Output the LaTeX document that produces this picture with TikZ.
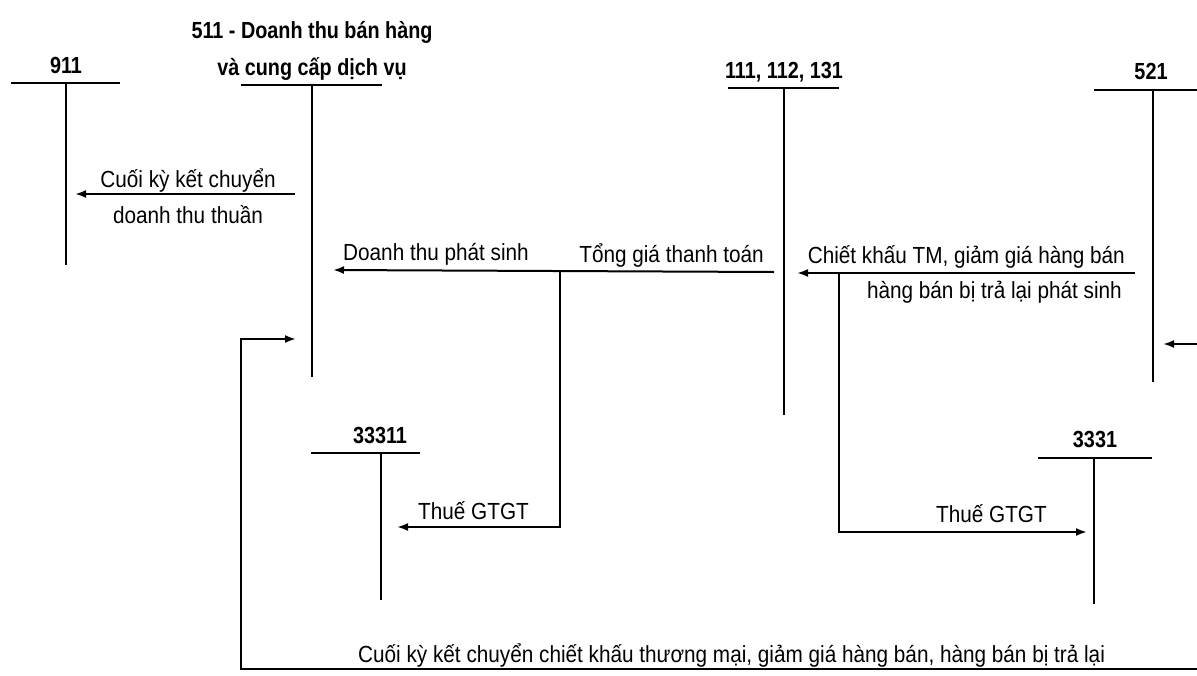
\documentclass[tikz,border=0pt]{standalone}
\usepackage{fontspec}
\setmainfont{Liberation Sans}[FakeStretch=0.89]
\newfontfamily\ttlfont{Liberation Sans}[FakeStretch=0.85]
\usetikzlibrary{arrows.meta}
\begin{document}
\begin{tikzpicture}[x=1pt,y=-1pt,
  acct/.style={line width=2pt},
  flow/.style={line width=2pt,-{Latex[length=11pt,width=8pt]}},
  lbl/.style={inner sep=0pt,font=\fontsize{23.3}{27}\selectfont},
  ttl/.style={inner sep=0pt,font=\ttlfont\fontsize{23.3}{27}\selectfont\bfseries}]
\useasboundingbox (0,0) rectangle (1197,675);

% ---- account 911
\coordinate (k911L) at (11,83);
\coordinate (k911R) at (120,83);
\coordinate (k911T) at (66,83);
\coordinate (k911B) at (66,265);
\node[ttl,anchor=base] (t911) at (66,73) {911};
\draw[acct] (k911L) -- (k911R);
\draw[acct] (k911T) -- (k911B);

% ---- account 511
\coordinate (k511L) at (241,85);
\coordinate (k511R) at (382,85);
\coordinate (k511T) at (312,85);
\coordinate (k511B) at (312,377);
\node[ttl,anchor=base] (t511a) at (312,38) {511 - Doanh thu bán hàng};
\node[ttl,anchor=base] (t511b) at (312,75) {và cung cấp dịch vụ};
\draw[acct] (k511L) -- (k511R);
\draw[acct] (k511T) -- (k511B);

% ---- account 111, 112, 131
\coordinate (k111L) at (728,88);
\coordinate (k111R) at (839,88);
\coordinate (k111T) at (784,88);
\coordinate (k111B) at (784,415);
\node[ttl,anchor=base] (t111) at (784,78) {111, 112, 131};
\draw[acct] (k111L) -- (k111R);
\draw[acct] (k111T) -- (k111B);

% ---- account 521
\coordinate (k521L) at (1094,90);
\coordinate (k521R) at (1197,90);
\coordinate (k521T) at (1153,90);
\coordinate (k521B) at (1153,382);
\node[ttl,anchor=base] (t521) at (1151,79) {521};
\draw[acct] (k521L) -- (k521R);
\draw[acct] (k521T) -- (k521B);

% ---- account 33311
\coordinate (k33311L) at (311,453);
\coordinate (k33311R) at (420,453);
\coordinate (k33311T) at (381,453);
\coordinate (k33311B) at (381,600);
\node[ttl,anchor=base] (t33311) at (380,443) {33311};
\draw[acct] (k33311L) -- (k33311R);
\draw[acct] (k33311T) -- (k33311B);

% ---- account 3331
\coordinate (k3331L) at (1038,458);
\coordinate (k3331R) at (1152,458);
\coordinate (k3331T) at (1094,458);
\coordinate (k3331B) at (1094,604);
\node[ttl,anchor=base] (t3331) at (1095,447) {3331};
\draw[acct] (k3331L) -- (k3331R);
\draw[acct] (k3331T) -- (k3331B);

% ---- 511 -> 911
\coordinate (f1s) at (295,194);
\coordinate (f1e) at (75,194);
\draw[flow] (f1s) -- (f1e);
\node[lbl,anchor=base] (l1a) at (188,187) {Cuối kỳ kết chuyển};
\node[lbl,anchor=base] (l1b) at (188,223) {doanh thu thuần};

% ---- 111 -> 511 and 33311
\coordinate (f2s) at (774,272);
\coordinate (f2e) at (333,270);
\coordinate (f2j) at (560,271);
\coordinate (f2k) at (560,527);
\coordinate (f2t) at (397,527);
\draw[flow] (f2s) -- (f2e);
\draw[flow] (f2j) -- (f2k) -- (f2t);
\node[lbl,anchor=base west] (l2a) at (343,260) {Doanh thu phát sinh};
\node[lbl,anchor=base east] (l2b) at (764,262) {Tổng giá thanh toán};
\node[lbl,anchor=base west] (l2c) at (418,519) {Thuế GTGT};

% ---- 521 -> 111 and 3331
\coordinate (f3s) at (1135,273);
\coordinate (f3e) at (797,273);
\coordinate (f3j) at (839,273);
\coordinate (f3k) at (839,532);
\coordinate (f3t) at (1087,532);
\draw[flow] (f3s) -- (f3e);
\draw[flow] (f3j) -- (f3k) -- (f3t);
\node[lbl,anchor=base east] (l3a) at (1125,263) {Chiết khấu TM, giảm giá hàng bán};
\node[lbl,anchor=base east] (l3b) at (1122,298) {hàng bán bị trả lại phát sinh};
\node[lbl,anchor=base east] (l3c) at (1047,522) {Thuế GTGT};

% ---- 521 -> 511 closing transfer
\coordinate (f4r) at (1197,669);
\coordinate (f4c) at (241,669);
\coordinate (f4u) at (241,339);
\coordinate (f4t) at (296,339);
\draw[flow] (f4r) -- (f4c) -- (f4u) -- (f4t);
\coordinate (f5s) at (1197,344);
\coordinate (f5t) at (1163,344);
\draw[flow] (f5s) -- (f5t);
\node[lbl,anchor=base west] (l4) at (358,662) {Cuối kỳ kết chuyển chiết khấu thương mại, giảm giá hàng bán, hàng bán bị trả lại};
\end{tikzpicture}
\end{document}
